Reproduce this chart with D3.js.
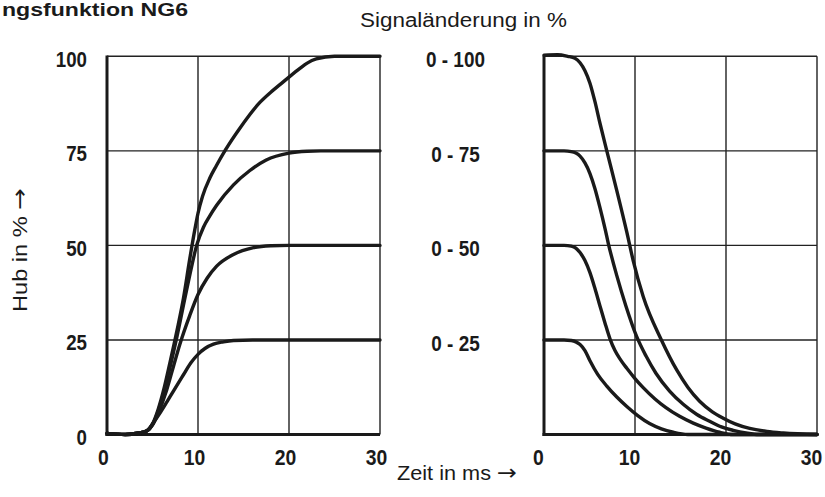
<!DOCTYPE html>
<html lang="de">
<head>
<meta charset="utf-8">
<title>Übertragungsfunktion NG6</title>
<script src="https://d3js.org/d3.v7.min.js"></script>
<style>
body { margin: 0; background: #fff; }
svg { display: block; }
.tick-lbl { font-family: "Liberation Sans", Arial, sans-serif; font-weight: bold; font-size: 22px; fill: #1a1a1a; }
.lbl { font-family: "Liberation Sans", Arial, sans-serif; font-size: 20px; fill: #1a1a1a; }
.arr { font-family: "DejaVu Sans", sans-serif; font-size: 22px; }
</style>
</head>
<body>
<div id="chart"></div>
<script>
// ---- data ----
var xTicks = [0, 10, 20, 30];
var yTicks = [0, 25, 50, 75, 100];
var rangeLabels = ["0 - 25", "0 - 50", "0 - 75", "0 - 100"];
var rangeLevels = [25, 50, 75, 100];

// step up (left panel): [time ms, stroke %]
var rise100 = [[0,0.3],[2,0],[3.5,0.4],[4.4,1],[5,2.8],[5.6,6.5],[6.3,12.5],[6.9,18.8],[7.7,27.6],[8.4,36],[9.1,46.5],[9.6,53.5],[10,58.5],[10.5,63],[11.3,67.8],[12,71],[13,75.2],[14.6,81],[16.8,87.8],[18,90.5],[19,92.5],[20,94.5],[21.2,96.8],[22,98.2],[23,99.3],[25,100],[30,100]];
var rise75  = [[0,0.3],[2,0],[3.5,0.4],[4.4,1],[5,2.6],[5.6,6],[6.3,11.5],[6.9,17.5],[7.7,26],[8.6,36.5],[9.3,44.4],[9.85,50],[10.6,54.8],[11.3,57.8],[12.05,60.6],[13.9,66],[15.7,69.8],[17.5,72.6],[20,74.4],[22,74.9],[23.5,75],[30,75]];
var rise50  = [[0,0.3],[2,0],[3.5,0.4],[4.4,1],[5,2.5],[5.6,5.5],[6.56,11.8],[7.3,18],[8,23.8],[9.1,31.5],[10,37],[11,41.3],[12.05,44.5],[13.9,47.6],[16.1,49.4],[18,49.9],[20,50],[30,50]];
var rise25  = [[0,0.3],[2,0],[3.5,0.4],[4.4,1],[5,2.8],[5.8,5.6],[6.55,8.5],[7.3,11.5],[8.4,15.8],[9.2,18.9],[10,21.2],[10.8,22.8],[11.7,23.9],[12.8,24.5],[13.9,24.85],[16,25],[30,25]];

// step down (right panel)
var fall100 = [[0,100.3],[1.5,100.4],[2.6,100],[3.4,99.5],[3.96,98.3],[4.5,96.2],[5.05,92.9],[5.6,88],[6.15,82.3],[6.9,75],[8,64.5],[9.1,53.5],[9.8,46],[10.9,36.5],[12.9,25],[14.6,17],[15.8,12.5],[17.1,8.8],[18.5,6],[19.7,4.3],[21,2.8],[22.6,1.6],[24.5,0.8],[26.3,0.4],[30,0]];
var fall75  = [[0,75],[2.2,75],[3,74.8],[3.5,74.4],[3.96,73.6],[4.5,71.8],[5.05,69],[5.6,65],[6.15,60],[6.7,54.5],[7.07,50.5],[8,42],[9,34],[10.2,25.8],[11.2,20.8],[12.3,16.2],[13.8,11.5],[15.3,8],[16.8,5.3],[18.2,3.5],[19.5,2],[20.8,1.1],[22.2,0.4],[23.6,0],[30,0]];
var fall50  = [[0,50],[2.2,50],[3,49.8],[3.5,49.3],[3.96,48.1],[4.5,46],[5.05,42.8],[5.6,38.6],[6.15,34],[6.7,29.5],[7.25,25.3],[7.8,22.2],[8.4,19.8],[9.1,17.5],[10,14.8],[10.9,12.4],[12.2,9.4],[13.4,7.1],[14.9,4.8],[16.4,3],[17.8,1.7],[19.3,0.6],[20.8,0],[30,0]];
var fall25  = [[0,25],[2.2,25],[3,24.85],[3.5,24.5],[3.96,23.8],[4.5,22.2],[5.05,19.5],[5.9,15.9],[6.9,12.8],[8,9.9],[9.1,7.4],[10.3,5],[11.6,2.9],[12.9,1.5],[14.2,0.6],[15.8,0],[30,0]];

var riseSeries = [rise100, rise75, rise50, rise25];
var fallSeries = [fall100, fall75, fall50, fall25];

var W = 825, H = 497;
var svg = d3.select("#chart").append("svg").attr("width", W).attr("height", H);

var y = d3.scaleLinear().domain([0, 100]).range([434.5, 56.3]);
var xL = d3.scaleLinear().domain([0, 30]).range([107, 380]);
var xR = d3.scaleLinear().domain([0, 30]).range([544, 817]);

// squeeze bold labels to look like the condensed face of the original
function condense(sel, k) {
  sel.each(function() {
    var w = this.getComputedTextLength();
    d3.select(this).attr("textLength", w * k).attr("lengthAdjust", "spacingAndGlyphs");
  });
}

function panel(x, series, shift) {
  var g = svg.append("g");
  // thin grid
  g.selectAll("line.h").data(yTicks.slice(1)).enter().append("line")
    .attr("x1", x(0)).attr("x2", x(30)).attr("y1", d => y(d)).attr("y2", d => y(d))
    .attr("stroke", "#222").attr("stroke-width", 1.4);
  g.selectAll("line.v").data(xTicks.slice(1)).enter().append("line")
    .attr("x1", d => x(d)).attr("x2", d => x(d)).attr("y1", y(0)).attr("y2", y(100))
    .attr("stroke", "#222").attr("stroke-width", 1.4);
  // heavy axes
  g.append("line").attr("x1", x(0)).attr("x2", x(0)).attr("y1", y(0) + 1.5).attr("y2", y(100) - 0.7)
    .attr("stroke", "#1a1a1a").attr("stroke-width", 3);
  g.append("line").attr("x1", x(0) - 1.5).attr("x2", x(30)).attr("y1", y(0)).attr("y2", y(0))
    .attr("stroke", "#1a1a1a").attr("stroke-width", 3);

  var line = d3.line().x(d => x(d[0])).y(d => y(d[1])).curve(d3.curveMonotoneX);
  g.selectAll("path.c").data(series).enter().append("path")
    .attr("d", line).attr("fill", "none")
    .attr("stroke", "#1a1a1a").attr("stroke-width", 3.4)
    .attr("stroke-linejoin", "round").attr("stroke-linecap", "round");

  var ax = svg.append("g").attr("transform", "translate(" + shift + "," + y(0) + ")")
    .call(d3.axisBottom(x).tickValues(xTicks).tickSize(0).tickPadding(15).tickFormat(d3.format("d")));
  ax.select(".domain").remove();
  ax.selectAll("text").attr("class", "tick-lbl").attr("fill", null).call(condense, 0.88);
}

panel(xL, riseSeries, -4);
panel(xR, fallSeries, -6);

// y axis labels (left)
var ay = svg.append("g").attr("transform", "translate(107,3)")
  .call(d3.axisLeft(y).tickValues(yTicks).tickSize(0).tickPadding(20));
ay.select(".domain").remove();
ay.selectAll("text").attr("class", "tick-lbl").attr("fill", null).call(condense, 0.85);

// signal range labels (middle)
svg.selectAll("text.rng").data(rangeLabels).enter().append("text")
  .attr("class", "tick-lbl")
  .attr("x", 455.5).attr("y", (d, i) => y(rangeLevels[i]) + 3)
  .attr("dy", "0.36em").attr("text-anchor", "middle")
  .text(d => d)
  .call(condense, 0.86);

// titles
svg.append("text").attr("class", "lbl").attr("x", 188).attr("y", 16)
  .attr("text-anchor", "end").style("font-weight", "bold").style("font-size", "18px")
  .attr("textLength", 186).attr("lengthAdjust", "spacingAndGlyphs")
  .text("ngsfunktion NG6");

svg.append("text").attr("class", "lbl").attr("x", 360).attr("y", 27)
  .attr("textLength", 207).attr("lengthAdjust", "spacingAndGlyphs")
  .text("Signaländerung in %");

var xl = svg.append("text").attr("class", "lbl").attr("x", 397).attr("y", 480)
  .attr("textLength", 120).attr("lengthAdjust", "spacingAndGlyphs");
xl.append("tspan").text("Zeit in ms ");
xl.append("tspan").attr("class", "arr").text("→");

var yl = svg.append("text").attr("class", "lbl")
  .attr("transform", "translate(27,250) rotate(-90)")
  .attr("text-anchor", "middle")
  .attr("textLength", 124).attr("lengthAdjust", "spacingAndGlyphs");
yl.append("tspan").text("Hub in % ");
yl.append("tspan").attr("class", "arr").text("→");
</script>
</body>
</html>
